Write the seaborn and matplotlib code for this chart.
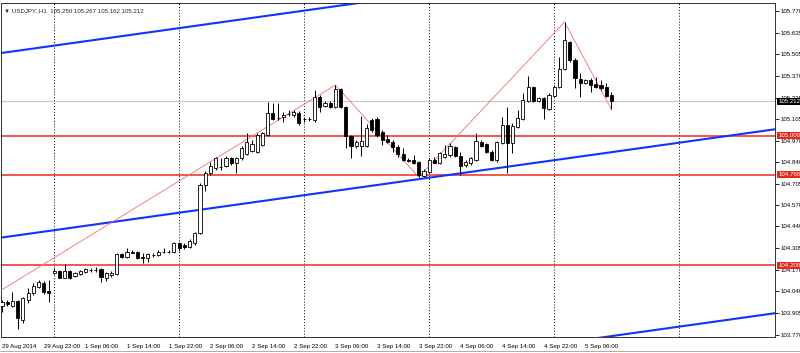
import matplotlib
matplotlib.use("Agg")
import matplotlib.pyplot as plt
import matplotlib.transforms as mtransforms
import seaborn as sns
import numpy as np
import pandas as pd

# %%
# Data: USDJPY H1 candles, 29 Aug 14:00 -> 5 Sep 11:00 (bar index = position)
opens = [103.949, 103.971, 103.949, 103.980, 103.863, 103.986, 104.029, 104.066, 104.091, 104.042,
         104.153, 104.165, 104.122, 104.165, 104.134, 104.147, 104.159, 104.171, 104.171, 104.177,
         104.122, 104.140, 104.147, 104.270, 104.251, 104.282, 104.282, 104.251, 104.245, 104.264,
         104.264, 104.282, 104.282, 104.282, 104.338, 104.326, 104.313, 104.338, 104.400, 104.696,
         104.770, 104.801, 104.807, 104.813, 104.863, 104.832, 104.863, 104.887, 104.906, 104.900,
         104.943, 105.005, 105.140, 105.109, 105.116, 105.134, 105.128, 105.140, 105.103, 105.103,
         105.097, 105.239, 105.184, 105.202, 105.177, 105.289, 105.177, 104.998, 104.937, 104.937,
         104.937, 105.097, 105.103, 105.023, 104.980, 104.961, 104.930, 104.887, 104.850, 104.850,
         104.838, 104.751, 104.776, 104.850, 104.832, 104.869, 104.881, 104.930, 104.875, 104.819,
         104.832, 104.850, 104.961, 104.949, 104.900, 104.850, 104.955, 105.066, 104.955, 105.054,
         105.103, 105.214, 105.301, 105.214, 105.233, 105.165, 105.245, 105.301, 105.412, 105.579,
         105.468, 105.350, 105.326, 105.344, 105.319, 105.313, 105.301, 105.250]
highs = [103.986, 103.986, 104.035, 103.986, 104.005, 104.060, 104.091, 104.110, 104.103, 104.110,
         104.184, 104.171, 104.208, 104.171, 104.159, 104.171, 104.184, 104.184, 104.190, 104.184,
         104.159, 104.165, 104.276, 104.276, 104.307, 104.295, 104.289, 104.276, 104.276, 104.276,
         104.295, 104.307, 104.295, 104.344, 104.344, 104.338, 104.363, 104.406, 104.708, 104.782,
         104.838, 104.869, 104.863, 104.875, 104.869, 104.869, 104.937, 105.017, 104.974, 105.017,
         105.023, 105.208, 105.202, 105.202, 105.146, 105.159, 105.159, 105.153, 105.116, 105.116,
         105.282, 105.251, 105.214, 105.214, 105.313, 105.295, 105.184, 105.005, 104.974, 105.122,
         105.072, 105.110, 105.116, 105.035, 105.005, 104.974, 104.943, 104.924, 104.863, 104.881,
         104.844, 104.795, 104.863, 104.869, 104.900, 104.943, 104.955, 104.937, 104.900, 104.850,
         104.869, 105.017, 104.974, 104.955, 104.912, 104.967, 105.116, 105.177, 105.079, 105.159,
         105.264, 105.369, 105.307, 105.239, 105.239, 105.264, 105.313, 105.486, 105.702, 105.585,
         105.480, 105.387, 105.350, 105.356, 105.363, 105.344, 105.326, 105.267]
lows = [103.912, 103.949, 103.943, 103.807, 103.844, 103.968, 104.017, 104.060, 104.023, 103.974,
        104.147, 104.119, 104.119, 104.116, 104.128, 104.140, 104.153, 104.159, 104.159, 104.097,
        104.103, 104.128, 104.140, 104.245, 104.245, 104.276, 104.239, 104.214, 104.221, 104.251,
        104.258, 104.276, 104.276, 104.276, 104.289, 104.301, 104.307, 104.326, 104.393, 104.659,
        104.758, 104.789, 104.789, 104.807, 104.819, 104.770, 104.850, 104.881, 104.900, 104.893,
        104.937, 104.998, 105.097, 105.097, 105.085, 105.122, 105.116, 105.066, 105.085, 105.091,
        105.085, 105.146, 105.177, 105.171, 105.171, 105.171, 104.924, 104.863, 104.924, 104.875,
        104.930, 105.023, 104.992, 104.943, 104.955, 104.900, 104.869, 104.844, 104.838, 104.826,
        104.745, 104.745, 104.770, 104.829, 104.826, 104.863, 104.869, 104.869, 104.758, 104.807,
        104.819, 104.844, 104.930, 104.893, 104.844, 104.838, 104.952, 104.770, 104.893, 105.048,
        105.097, 105.208, 105.208, 105.208, 105.103, 105.159, 105.239, 105.295, 105.406, 105.455,
        105.295, 105.239, 105.319, 105.270, 105.295, 105.282, 105.239, 105.162]
closes = [103.974, 103.961, 103.980, 103.875, 103.998, 104.029, 104.072, 104.097, 104.035, 104.029,
          104.168, 104.122, 104.165, 104.122, 104.153, 104.165, 104.177, 104.170, 104.170, 104.128,
          104.153, 104.153, 104.270, 104.251, 104.282, 104.279, 104.245, 104.245, 104.270, 104.265,
          104.282, 104.283, 104.282, 104.338, 104.307, 104.313, 104.350, 104.400, 104.696, 104.770,
          104.813, 104.863, 104.806, 104.863, 104.832, 104.863, 104.924, 104.961, 104.949, 105.005,
          105.017, 105.140, 105.103, 105.110, 105.128, 105.135, 105.146, 105.079, 105.104, 105.102,
          105.239, 105.177, 105.202, 105.177, 105.289, 105.177, 104.998, 104.937, 104.961, 104.967,
          105.048, 105.035, 105.005, 104.974, 104.961, 104.930, 104.887, 104.850, 104.844, 104.832,
          104.758, 104.782, 104.850, 104.832, 104.893, 104.887, 104.937, 104.875, 104.813, 104.838,
          104.863, 104.967, 104.937, 104.900, 104.850, 104.961, 105.066, 104.955, 105.060, 105.110,
          105.221, 105.301, 105.214, 105.233, 105.171, 105.251, 105.301, 105.412, 105.591, 105.468,
          105.356, 105.326, 105.344, 105.313, 105.301, 105.295, 105.245, 105.212]

time_labels = ["29 Aug 2014", "29 Aug 22:00", "1 Sep 06:00", "1 Sep 14:00", "1 Sep 22:00",
               "2 Sep 06:00", "2 Sep 14:00", "2 Sep 22:00", "3 Sep 06:00", "3 Sep 14:00",
               "3 Sep 22:00", "4 Sep 06:00", "4 Sep 14:00", "4 Sep 22:00", "5 Sep 06:00"]
label_bars = [0, 8, 16, 24, 32, 40, 48, 56, 64, 72, 80, 88, 96, 104, 112]
day_breaks = [10, 34, 58, 82, 106, 130]

price_ticks = [105.770, 105.635, 105.505, 105.370, 105.235, 105.105, 104.970, 104.840,
               104.705, 104.570, 104.440, 104.305, 104.170, 104.040, 103.905, 103.770]
levels = [105.000, 104.760, 104.200]
last_price = 105.212

# zigzag (bar index, price)
zig_bars = [-1, 64, 80, 108, 117]
zig_prices = [104.030, 105.313, 104.745, 105.702, 105.162]

# channel lines: price at bar 0 and slope per bar
channel_start = [105.511, 104.372, 103.237]
channel_slope = 0.0045

header = "\u25bc USDJPY.,H1  105.250 105.267 105.162 105.212"

# %%
sns.set_style("white")
plt.rcParams["font.family"] = ["Liberation Sans", "DejaVu Sans"]
fs = 4.4

df = pd.DataFrame({"o": opens, "h": highs, "l": lows, "c": closes})
df["bar"] = np.arange(len(df))
df["up"] = df["c"] >= df["o"]

fig = plt.figure(figsize=(8, 3.53), dpi=100)
ax = fig.add_axes([1 / 800, 16 / 353, 774 / 800, 334 / 353])

# day separators
for b in day_breaks:
    ax.axvline(b, color="black", lw=0.7, linestyle=(0, (1, 2)), zorder=1)

# horizontal levels
ax.axhline(last_price, color="#c8c8c8", lw=0.8, zorder=1)
for lv in levels:
    ax.axhline(lv, color="#f0281e", lw=1.1, zorder=2)

# channel
xs = np.array([-2, 150])
for start in channel_start:
    sns.lineplot(x=xs, y=start + channel_slope * xs, color="#1034ff", lw=1.5, ax=ax, zorder=2)

# zigzag
sns.lineplot(x=zig_bars, y=zig_prices, sort=False, color="#f07070", lw=0.6, ax=ax, zorder=3)

# candles
ax.vlines(df["bar"], df["l"], df["h"], color="black", lw=0.7, zorder=4)
body_lo = df[["o", "c"]].min(axis=1)
body_h = (df["c"] - df["o"]).abs().clip(lower=0.0008)
ax.bar(df["bar"], body_h, bottom=body_lo, width=0.6,
       color=np.where(df["up"], "white", "black"), edgecolor="black", lw=0.6, zorder=5)

ax.set_xlim(-0.2, 148.4)
ax.set_ylim(103.758, 105.819)

ax.set_xticks(label_bars)
ax.set_xticklabels(time_labels, fontsize=fs, ha="left")
ax.yaxis.tick_right()
ax.set_yticks(price_ticks)
ax.set_yticklabels([f"{p:.3f}" for p in price_ticks], fontsize=fs)
ax.tick_params(axis="both", direction="out", length=3, width=0.6, pad=1.2, colors="black")
ax.tick_params(axis="x", pad=2)
for s in ax.spines.values():
    s.set_color("#303030")
    s.set_linewidth(0.7)

# price labels on the right axis
trans = mtransforms.blended_transform_factory(ax.transAxes, ax.transData)
for lv in levels:
    ax.text(1.004, lv, f"{lv:.3f}", transform=trans, fontsize=fs, color="white",
            va="center", ha="left", zorder=10, clip_on=False,
            bbox=dict(facecolor="#e8261c", edgecolor="none", pad=0.6))
ax.text(1.004, last_price, f"{last_price:.3f}", transform=trans, fontsize=fs, color="white",
        va="center", ha="left", zorder=10, clip_on=False,
        bbox=dict(facecolor="black", edgecolor="none", pad=0.6))

ax.text(0.004, 0.985, header, transform=ax.transAxes, fontsize=fs, va="top", ha="left")

fig.add_artist(plt.Line2D([0, 1], [2 / 353, 2 / 353], color="#a0a0a0", lw=0.6))

fig.savefig("out.png", dpi=100)
